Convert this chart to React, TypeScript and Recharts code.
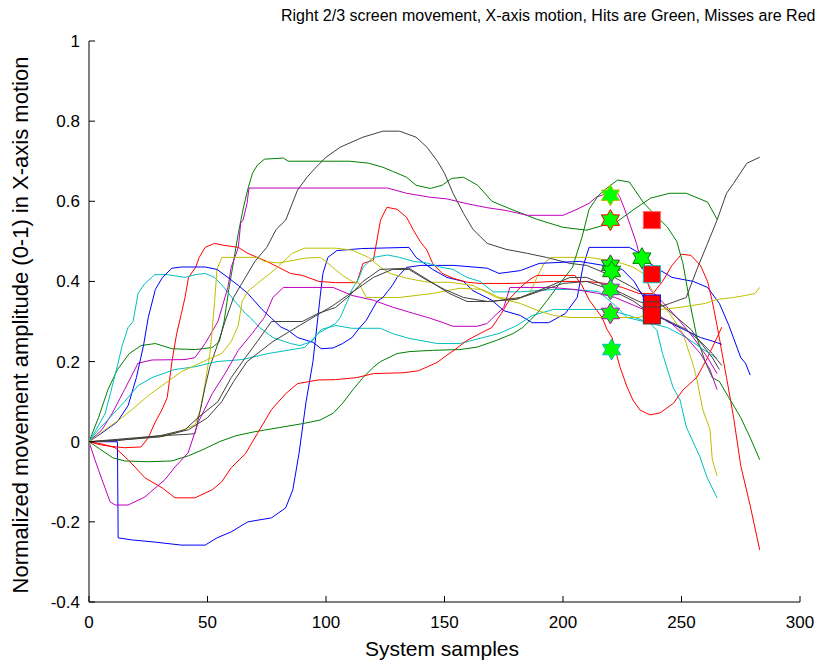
import { ComposedChart, Line, Scatter, XAxis, YAxis } from "recharts";

type P = [number, number];

// traces: [sample, amplitude]
const blueA: P[] = [[0,0],[5,0],[12,0],[12.3,-0.24],[18,-0.245],[27,-0.25],[39,-0.258],[49,-0.258],[54,-0.24],[60,-0.225],[67,-0.2],[77,-0.19],[83,-0.165],[86,-0.12],[88.6,-0.03],[91.6,0.1],[94.5,0.2],[97.5,0.36],[98.7,0.42],[100.8,0.46],[104.6,0.477],[115,0.482],[135,0.485],[138,0.46],[145,0.43],[151,0.41],[158,0.4],[162,0.377],[170,0.353],[175,0.327],[182,0.315],[187,0.297],[194,0.297],[201,0.32],[206,0.36],[208.4,0.436],[211,0.485],[228,0.485],[232.5,0.47],[236.7,0.445],[241,0.428],[246,0.41],[255,0.4],[261,0.385],[266,0.345],[270,0.29],[275,0.21],[277,0.196],[279,0.166]];
const blueB: P[] = [[0,0],[5,0.02],[12,0.05],[16.5,0.09],[20,0.16],[23,0.24],[25,0.31],[28,0.38],[31,0.41],[35,0.433],[39,0.436],[49,0.436],[54,0.43],[58.6,0.41],[63,0.39],[67,0.37],[73,0.33],[77,0.308],[81,0.286],[84,0.278],[88,0.26],[94.5,0.248],[98,0.232],[103,0.234],[107,0.245],[111,0.26],[114,0.283],[117,0.303],[121.5,0.35],[124,0.36],[126,0.375],[128,0.39],[130,0.41],[134,0.435],[140,0.44],[154,0.44],[168,0.433],[173,0.42],[182,0.427],[190,0.445],[207,0.45],[217,0.44],[225,0.43],[230,0.4],[234,0.36],[237,0.33],[244,0.3],[251,0.28],[258,0.26],[262,0.253],[267,0.243]];
const greenB: P[] = [[0,0],[4,0.06],[8,0.13],[12,0.18],[17,0.22],[22,0.24],[28,0.245],[35,0.232],[45,0.23],[52,0.235],[55,0.25],[57,0.3],[59,0.38],[61,0.45],[63,0.52],[65,0.58],[67,0.63],[69,0.67],[71,0.69],[74,0.705],[82,0.708],[84,0.7],[110,0.7],[118,0.695],[124,0.685],[128,0.675],[134,0.66],[138,0.64],[144,0.632],[149,0.64],[153,0.657],[158,0.66],[164,0.64],[170,0.6],[179,0.578],[189,0.555],[200,0.535],[210,0.528],[223,0.55],[230,0.58],[237,0.608],[245,0.62],[252,0.62],[261,0.598],[265,0.555]];
const greenC: P[] = [[0,0],[5,-0.02],[10,-0.04],[15,-0.048],[25,-0.05],[35,-0.048],[42,-0.035],[48,-0.02],[55,0],[62,0.015],[70,0.025],[80,0.035],[90,0.045],[97.5,0.054],[103,0.071],[107,0.096],[111.4,0.13],[115.6,0.16],[120,0.186],[123,0.2],[130,0.22],[135.4,0.225],[145,0.228],[156.5,0.23],[163.7,0.236],[172,0.253],[179,0.27],[183,0.285],[189,0.32],[193,0.35],[198,0.39],[204,0.435],[208,0.51],[211,0.58],[215,0.615],[219,0.635],[223,0.653],[228,0.648],[234,0.596],[239,0.565],[244,0.536],[248,0.5],[250.6,0.445],[253.6,0.345],[256.5,0.26],[260,0.2],[263,0.16],[266,0.15],[270,0.11],[275,0.06],[279,0.01],[283,-0.045]];
const redA: P[] = [[0,0],[5,-0.008],[10,-0.012],[15,-0.015],[22,-0.013],[25,0.01],[27.8,0.047],[30.8,0.08],[33,0.11],[35,0.2],[37,0.27],[39,0.32],[40.5,0.36],[42,0.41],[45,0.435],[46.5,0.46],[49,0.485],[53,0.495],[57,0.49],[63,0.485],[67,0.47],[71,0.46],[75,0.45],[80,0.435],[85,0.42],[90,0.415],[97,0.4],[104,0.397],[113,0.397],[115.6,0.445],[120,0.453],[123,0.553],[125.7,0.585],[130,0.58],[134,0.56],[136.7,0.53],[139.7,0.5],[142.6,0.478],[145,0.445],[149,0.42],[153.6,0.408],[159.5,0.398],[165,0.395],[180,0.395],[196,0.4],[210,0.4],[218,0.395],[225,0.385],[232,0.37],[238,0.37],[242,0.4],[246,0.44],[250,0.468],[254,0.465],[258,0.44],[261,0.4],[263,0.35],[265,0.29],[269,0.16],[272,0.06],[275,-0.06],[279,-0.16],[283,-0.27]];
const redC: P[] = [[0,0],[5,-0.005],[11,-0.015],[16.5,-0.045],[23.6,-0.09],[30.8,-0.115],[36.3,-0.14],[44.7,-0.14],[52,-0.12],[56,-0.1],[60,-0.065],[66,-0.03],[71,0.02],[77,0.08],[83,0.12],[88,0.145],[96.6,0.154],[104,0.155],[113,0.16],[120,0.17],[132.5,0.172],[139,0.177],[147,0.198],[151,0.216],[154,0.228],[159.5,0.253],[165,0.27],[170,0.285],[174,0.32],[178,0.36],[182,0.385],[186,0.405],[189,0.415],[205,0.415],[208,0.39],[211,0.354],[216.5,0.31],[218.6,0.28],[220.7,0.26],[224,0.187],[227,0.137],[229.5,0.104],[232.5,0.079],[236.7,0.067],[241,0.072],[246.6,0.096],[250.6,0.129],[256.5,0.161],[261,0.21],[265,0.26],[267,0.286]];
const cyanA: P[] = [[0,0],[3,0.03],[6.8,0.07],[9,0.12],[12,0.19],[14,0.24],[16.5,0.285],[18.6,0.3],[20.7,0.37],[23.6,0.395],[27.8,0.417],[33,0.417],[40.5,0.41],[45,0.417],[49,0.42],[53,0.41],[57,0.385],[61.6,0.35],[66,0.32],[68,0.31],[72,0.285],[77.6,0.26],[85,0.245],[89,0.24],[94,0.25],[98,0.28],[104,0.29],[111,0.283],[123,0.283],[128,0.27],[135,0.258],[147,0.245],[156.5,0.245],[165,0.258],[173,0.27],[180.6,0.29],[187,0.315],[196,0.33],[218,0.33],[228,0.315],[236.7,0.296],[239.6,0.278],[242,0.22],[246.4,0.136],[249.4,0.104],[252,0.037],[257.8,-0.038],[260.7,-0.088],[265,-0.14]];
const cyanB: P[] = [[0,0],[4,0.03],[8,0.055],[15,0.1],[20.7,0.14],[26.6,0.16],[36,0.18],[44.7,0.187],[54,0.2],[64.6,0.205],[75.5,0.22],[85.7,0.23],[91,0.235],[96.6,0.27],[104,0.295],[106,0.31],[109,0.35],[111,0.38],[114,0.41],[115.6,0.435],[120,0.46],[126,0.466],[131,0.46],[137,0.45],[142.6,0.446],[148,0.436],[153.6,0.43],[159.5,0.41],[165,0.4],[170.5,0.374],[182,0.374],[196,0.38],[203,0.38],[215,0.375],[222,0.34],[227,0.31],[234,0.3],[244,0.285],[252,0.26],[258,0.235],[265,0.208]];
const magentaA: P[] = [[0,0],[5.5,0.03],[9.7,0.07],[15,0.13],[20.7,0.196],[26.6,0.204],[40.5,0.205],[44.7,0.21],[49,0.245],[54.4,0.3],[58.6,0.385],[60,0.435],[63,0.485],[64,0.545],[65,0.553],[66.7,0.595],[67.5,0.633],[126,0.633],[134,0.62],[144,0.61],[151,0.606],[159.5,0.594],[168,0.584],[176,0.577],[185,0.565],[200,0.565],[205.9,0.58],[211,0.595],[214,0.61],[218.6,0.62],[223,0.62],[224,0.61],[225.7,0.585],[228.7,0.535],[231,0.495],[232.5,0.46],[233.8,0.43],[236.7,0.38],[241,0.355],[248,0.31],[255,0.26],[258,0.235],[261,0.21],[265,0.17]];
const magentaB: P[] = [[0,0],[2.5,-0.045],[5.5,-0.095],[8.9,-0.15],[11,-0.158],[16.5,-0.158],[23.6,-0.138],[27.8,-0.116],[32,-0.095],[36.3,-0.063],[41.8,-0.028],[46,0.047],[52,0.12],[57.4,0.17],[63,0.228],[68.8,0.27],[74,0.31],[77.6,0.36],[82,0.385],[103,0.385],[111,0.365],[120,0.353],[128,0.336],[137,0.32],[144,0.308],[149,0.298],[153.6,0.288],[163.7,0.288],[168,0.295],[170.5,0.31],[175,0.335],[177.6,0.385],[195,0.385],[205,0.38],[215,0.37],[222,0.36],[230,0.34],[238,0.32],[245,0.3],[252,0.26],[258,0.22],[262,0.18],[265,0.13]];
const yellowA: P[] = [[0,0],[12,0.004],[23.6,0.01],[32,0.014],[37.6,0.024],[44.7,0.042],[47,0.08],[49,0.146],[51,0.22],[52,0.28],[53,0.35],[54,0.43],[56,0.46],[71,0.46],[74,0.45],[80,0.446],[85.7,0.452],[91,0.458],[97.5,0.46],[100,0.45],[102.8,0.435],[107,0.415],[111,0.4],[114,0.395],[117,0.36],[131,0.36],[145,0.37],[156.5,0.383],[166,0.38],[173,0.36],[180.6,0.355],[186,0.37],[189,0.41],[192,0.445],[195,0.46],[211,0.46],[218.6,0.453],[225,0.445],[229.5,0.436],[233.8,0.42],[237,0.385],[239.6,0.354],[245,0.32],[250.6,0.27],[252,0.245],[255,0.19],[256.5,0.155],[259,0.08],[262,0.03],[263,-0.045],[265,-0.085]];
const yellowB: P[] = [[0,0],[8,0.035],[14,0.06],[19.5,0.087],[25,0.115],[32,0.145],[39,0.175],[44.7,0.19],[50,0.205],[56,0.22],[60,0.25],[63,0.29],[64.6,0.35],[67,0.375],[71,0.395],[78.5,0.43],[85.7,0.47],[91,0.483],[104,0.483],[111,0.478],[118,0.46],[123,0.435],[127,0.42],[134,0.408],[143,0.398],[152,0.398],[162,0.39],[172,0.36],[182,0.345],[189,0.328],[196,0.315],[203,0.31],[232,0.31],[241,0.33],[249,0.335],[260,0.345],[265,0.355],[272,0.36],[277,0.365],[281,0.37],[283,0.385]];
const grayA: P[] = [[0,0],[10,0.005],[20,0.01],[30,0.015],[40,0.018],[44.7,0.02],[47,0.08],[49,0.137],[51,0.187],[54.4,0.245],[57.4,0.3],[61,0.36],[66,0.41],[70,0.45],[75,0.485],[79,0.53],[83,0.553],[88,0.628],[92,0.66],[95,0.68],[100,0.71],[106,0.735],[115.6,0.76],[124,0.775],[131,0.775],[138,0.76],[142.6,0.735],[147,0.7],[150,0.67],[153.6,0.62],[158,0.57],[162,0.53],[168,0.495],[176,0.48],[185,0.47],[193,0.46],[203,0.445],[210,0.44],[220,0.415],[228,0.39],[235,0.365],[242,0.34],[248,0.31],[254,0.28],[259,0.24],[263,0.21],[266,0.18]];
const grayB: P[] = [[0,0],[10,0.002],[20,0.008],[30,0.015],[40.5,0.03],[46,0.06],[54.4,0.1],[60,0.16],[66,0.21],[71,0.25],[77,0.3],[83,0.3],[90,0.3],[96.6,0.32],[104,0.335],[110,0.365],[115.6,0.4],[122.8,0.43],[135,0.433],[144,0.4],[152,0.37],[159.5,0.35],[170,0.35],[182,0.36],[193,0.385],[203,0.41],[210,0.41],[218,0.39],[225,0.37],[232,0.35],[240,0.335],[245,0.345],[252,0.36],[256.5,0.43],[261,0.495],[265,0.553],[269,0.62],[272,0.645],[277.6,0.695],[283,0.71]];
const grayC: P[] = [[0,0],[15,0.005],[30,0.012],[42,0.03],[50,0.06],[56,0.1],[61,0.15],[66.7,0.2],[77.6,0.25],[86,0.28],[94.5,0.31],[103,0.34],[109,0.365],[114,0.385],[120,0.41],[128,0.43],[135,0.43],[142,0.405],[150,0.38],[158,0.36],[168,0.35],[180,0.355],[190,0.375],[200,0.395],[210,0.4],[220,0.38],[230,0.35],[238,0.315],[245,0.3],[252,0.28],[258,0.25],[263,0.22],[267,0.19]];

// hits (hexagrams) and misses (squares): x, y, edge colour
const hits: [number, number, string][] = [[220,0.615,"#BFBF00"],[220,0.553,"#FF0000"],[220,0.44,"#404040"],[220.5,0.425,"#008000"],[220,0.38,"#9030C0"],[220,0.32,"#BF00BF"],[220.5,0.23,"#00BFBF"],[233.3,0.458,"#008000"]];
const misses: [number, number, string][] = [[237.5,0.553,"#FF6060"],[237.5,0.418,"#00BFBF"],[237.5,0.345,"#0000FF"],[237.5,0.328,"#404040"],[237.5,0.315,"#404040"]];

const yTicks = [-0.4, -0.2, 0, 0.2, 0.4, 0.6, 0.8, 1];
const xTicks = [0, 50, 100, 150, 200, 250, 300];

const series = [
  { id: "blueA", color: "#0000FF", pts: blueA },
  { id: "greenB", color: "#008000", pts: greenB },
  { id: "redA", color: "#FF0000", pts: redA },
  { id: "cyanA", color: "#00BFBF", pts: cyanA },
  { id: "magentaA", color: "#BF00BF", pts: magentaA },
  { id: "yellowA", color: "#BFBF00", pts: yellowA },
  { id: "grayA", color: "#404040", pts: grayA },
  { id: "blueB", color: "#0000FF", pts: blueB },
  { id: "greenC", color: "#008000", pts: greenC },
  { id: "redC", color: "#FF0000", pts: redC },
  { id: "cyanB", color: "#00BFBF", pts: cyanB },
  { id: "magentaB", color: "#BF00BF", pts: magentaB },
  { id: "yellowB", color: "#BFBF00", pts: yellowB },
  { id: "grayB", color: "#404040", pts: grayB },
  { id: "grayC", color: "#404040", pts: grayC },
];

const FONT = '"Liberation Sans", Arial, sans-serif';
const L = 89, R = 800, T = 41, B = 602;

const YTick = ({ y, payload }: any) => (
  <g>
    <line x1={L} x2={L + 6} y1={y} y2={y} stroke="#000" />
    <text x={80} y={y + 6} textAnchor="end" fontSize={17} fontFamily={FONT} fill="#000">
      {String(Math.round(payload.value * 10) / 10)}
    </text>
  </g>
);

const XTick = ({ x, payload }: any) => (
  <g>
    <line x1={x} x2={x} y1={B} y2={B - 6} stroke="#000" />
    <text x={x} y={B + 26} textAnchor="middle" fontSize={17} fontFamily={FONT} fill="#000">
      {payload.value}
    </text>
  </g>
);

const hexagram = (cx: number, cy: number, r: number) => {
  const pts: string[] = [];
  for (let k = 0; k < 12; k++) {
    const a = ((-90 + k * 30) * Math.PI) / 180;
    const rr = k % 2 === 0 ? r : r / Math.sqrt(3);
    pts.push(`${cx + rr * Math.cos(a)},${cy + rr * Math.sin(a)}`);
  }
  return pts.join(" ");
};

const Star = (p: any) => (
  <polygon points={hexagram(p.cx, p.cy, 10.5)} fill="#00FF00" stroke={p.payload.edge} strokeWidth={1} />
);
const Square = (p: any) => (
  <rect x={p.cx - 8.5} y={p.cy - 8.5} width={17} height={17} fill="#FF0000" stroke={p.payload.edge} strokeWidth={1} />
);

export default function App() {
  const hitData = hits.map(([x, y, edge]) => ({ x, y, edge }));
  const missData = misses.map(([x, y, edge]) => ({ x, y, edge }));
  return (
    <div style={{ position: "absolute", left: 0, top: 0, width: 822, height: 670, background: "#fff", fontFamily: FONT }}>
      <ComposedChart width={822} height={670} margin={{ top: T, right: 822 - R, bottom: 38, left: 0 }}>
        <XAxis
          type="number"
          dataKey="x"
          domain={[0, 300]}
          ticks={xTicks}
          height={30}
          tickLine={false}
          axisLine={{ stroke: "#808080", strokeWidth: 2 }}
          tick={<XTick />}
          allowDataOverflow
        />
        <YAxis
          type="number"
          dataKey="y"
          domain={[-0.4, 1]}
          ticks={yTicks}
          width={L}
          tickLine={false}
          axisLine={{ stroke: "#808080", strokeWidth: 2 }}
          tick={<YTick />}
          allowDataOverflow
        />
        {series.map((s) => (
          <Line
            key={s.id}
            data={s.pts.map(([x, y]) => ({ x, y }))}
            dataKey="y"
            type="linear"
            stroke={s.color}
            strokeWidth={1}
            dot={false}
            activeDot={false}
            isAnimationActive={false}
          />
        ))}
        <Scatter data={hitData} dataKey="y" shape={Star} isAnimationActive={false} />
        <Scatter data={missData} dataKey="y" shape={Square} isAnimationActive={false} />
      </ComposedChart>
      <div style={{ position: "absolute", left: 281, top: 7, fontSize: 16, whiteSpace: "nowrap", color: "#000" }}>
        Right 2/3 screen movement, X-axis motion, Hits are Green, Misses are Red
      </div>
      <div style={{ position: "absolute", left: 0, width: 884, top: 637, textAlign: "center", fontSize: 21, color: "#000" }}>
        System samples
      </div>
      <div
        style={{
          position: "absolute",
          left: 21 - 350,
          top: 325 - 13,
          width: 700,
          height: 26,
          lineHeight: "26px",
          textAlign: "center",
          fontSize: 22,
          color: "#000",
          whiteSpace: "nowrap",
          transform: "rotate(-90deg)",
        }}
      >
        Normalized movement amplitude (0-1) in X-axis motion
      </div>
    </div>
  );
}
